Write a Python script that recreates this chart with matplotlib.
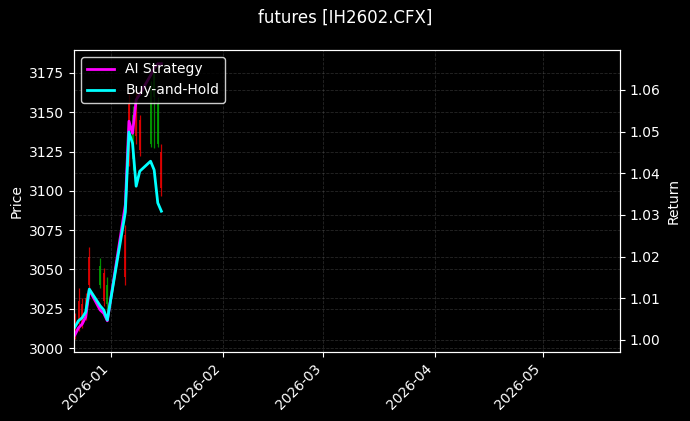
import matplotlib
matplotlib.use("Agg")
import matplotlib.pyplot as plt
import matplotlib.dates as mdates
import numpy as np
import pandas as pd

dates = pd.to_datetime([
    "2025-12-22", "2025-12-23", "2025-12-24", "2025-12-25", "2025-12-26",
    "2025-12-29", "2025-12-30", "2025-12-31", "2026-01-05", "2026-01-06",
    "2026-01-07", "2026-01-08", "2026-01-09", "2026-01-12", "2026-01-13",
    "2026-01-14", "2026-01-15",
])
opens  = [3018, 3030, 3028, 3032, 3058, 3040, 3048, 3028, 3072, 3155, 3120, 3150, 3145, 3130, 3160, 3130, 3125]
highs  = [3022, 3038, 3032, 3035, 3064, 3057, 3051, 3045, 3078, 3162, 3154, 3165, 3148, 3170, 3181, 3160, 3130]
lows   = [3006, 3011, 3013, 3018, 3036, 3038, 3027, 3023, 3040, 3116, 3113, 3130, 3122, 3128, 3127, 3128, 3097]
closes = [3012, 3015, 3016, 3022, 3040, 3052, 3030, 3040, 3045, 3125, 3148, 3135, 3126, 3165, 3175, 3155, 3102]

ai_strategy = [1.0012, 1.0029, 1.0038, 1.0055, 1.0120, 1.0072, 1.0064, 1.0046, 1.0324, 1.0525,
               1.0496, 1.0576, 1.0590, 1.0635, 1.0652, 1.0663, 1.0663]
buy_hold = [1.0031, 1.0046, 1.0053, 1.0067, 1.0122, 1.0082, 1.0072, 1.0048, 1.0307, 1.0499,
            1.0472, 1.0369, 1.0405, 1.0429, 1.0408, 1.0329, 1.0309]

plt.style.use("dark_background")
fig = plt.figure(figsize=(6.9, 4.21), dpi=100)
fig.patch.set_facecolor("black")
ax = fig.add_axes([74/690, 69/421, 546/690, 302/421])
ax.set_facecolor("black")

xd = mdates.date2num(dates)
o = np.array(opens); h = np.array(highs); l = np.array(lows); c = np.array(closes)
up = c >= o
cols = np.where(up, "#00a000", "#e00000")
ax.vlines(xd, l, h, colors=cols, linewidth=0.9, alpha=0.9)
ax.bar(xd, np.abs(c - o), bottom=np.minimum(o, c), width=0.5, color=cols, alpha=0.9)

ax.set_ylabel("Price", color="white")
ax.set_ylim(2997.5, 3189.6)
ax.set_yticks(np.arange(3000, 3176, 25))
ax.grid(True, linestyle="--", linewidth=0.6, alpha=0.3, color="gray")

ax2 = ax.twinx()
ax2.plot(dates, ai_strategy, color="#ff00ff", linewidth=2, label="AI Strategy")
ax2.plot(dates, buy_hold, color="#00ffff", linewidth=2, label="Buy-and-Hold")
ax2.set_ylim(0.9971, 1.0696)
ax2.set_yticks(np.arange(1.00, 1.0601, 0.01))
ax2.yaxis.set_major_formatter(matplotlib.ticker.FormatStrFormatter("%.2f"))
ax2.set_ylabel("Return", color="white")
ax2.grid(True, linestyle="--", linewidth=0.6, alpha=0.3, color="gray")

left = mdates.date2num(pd.Timestamp("2026-01-01")) - 10.25
right = mdates.date2num(pd.Timestamp("2026-05-01")) + 21.3
ax.set_xlim(left, right)
ax.xaxis.set_major_locator(mdates.MonthLocator())
ax.xaxis.set_major_formatter(mdates.DateFormatter("%Y-%m"))
for lab in ax.get_xticklabels():
    lab.set_rotation(45)
    lab.set_ha("right")

for a in (ax, ax2):
    for s in a.spines.values():
        s.set_color("white")

leg = ax2.legend(loc="upper left", facecolor="black", edgecolor="white", framealpha=0.8)
for t in leg.get_texts():
    t.set_color("white")

fig.suptitle("futures [IH2602.CFX]", color="white", fontsize=12)
fig.savefig("out.png", dpi=100, facecolor="black")
